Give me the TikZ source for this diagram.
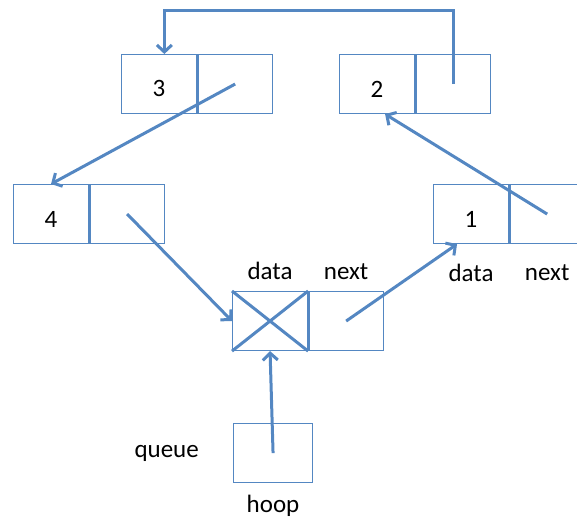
\documentclass[tikz,border=0pt]{standalone}
\usepackage{fontspec}
\setmainfont{Carlito}
\usetikzlibrary{arrows.meta, positioning, calc}
\definecolor{ptrblue}{rgb}{0.33, 0.53, 0.76}
\tikzset{cell/.style={draw=ptrblue, line width=1.1pt, minimum width=75pt, minimum height=59pt, inner sep=0pt, font=\fontsize{25}{30}\selectfont}}
\tikzset{valcell/.style={cell, anchor=north west, text height=26pt}}
\tikzset{ptr/.style={draw=ptrblue, line width=3pt, -{Straight Barb[length=7pt, width=15pt]}}}
\tikzset{divider/.style={draw=ptrblue, line width=3pt}}
\tikzset{lbl/.style={font=\fontsize{25}{30}\selectfont, inner sep=0pt}}

\begin{document}
\begin{tikzpicture}[x=1pt, y=-1pt]
\useasboundingbox (0,0) rectangle (577,519);
\clip (0,0) rectangle (577,519);

% list elements: D = data part, P = next part
\node[valcell] (D3) at (121, 54) {3};
\node[cell, right=0 of D3] (P3) {};
\node[valcell] (D2) at (339, 54) {2};
\node[cell, right=0 of D2] (P2) {};
\node[valcell] (D4) at (13, 184) {4};
\node[cell, right=0 of D4] (P4) {};
\node[valcell] (D1) at (433, 184) {1};
\node[cell, right=0 of D1] (P1) {};
\node[valcell] (D0) at (232, 291) {};
\node[cell, right=0 of D0] (P0) {};
\node[cell, anchor=north west, minimum width=79pt] (H) at (233, 423) {};

\draw[divider] (D3.north east) -- (D3.south east);
\draw[divider] (D2.north east) -- (D2.south east);
\draw[divider] (D4.north east) -- (D4.south east);
\draw[divider] (D1.north east) -- (D1.south east);
\draw[divider] (D0.north east) -- (D0.south east);
\draw[divider] (D0.north west) -- (D0.south east) (D0.south west) -- (D0.north east);

\node[lbl, above=11pt of D0] (data0) {data};
\node[lbl, above=11pt of P0] (next0) {next};
\node[lbl, below=20pt of D1] (data1) {data};
\node[lbl, below=20pt of P1] (next1) {next};
\node[lbl, left=34pt of H] (queue) {queue};
\node[lbl, below=12pt of H] (hoop) {hoop};

\coordinate (top) at (0, 11);
\draw[ptr] (P3.center) -- (D4.north);
\draw[ptr] (P4.center) -- (D0.west);
\draw[ptr] (P0.center) -- (D1.-115);
\draw[ptr] (P1.center) -- (D2.-75);
\draw[ptr] (P2.center) -- (P2.center |- top) -| (D3.80);
\draw[ptr] (H.center) -- (D0.south);

\end{tikzpicture}
\end{document}
